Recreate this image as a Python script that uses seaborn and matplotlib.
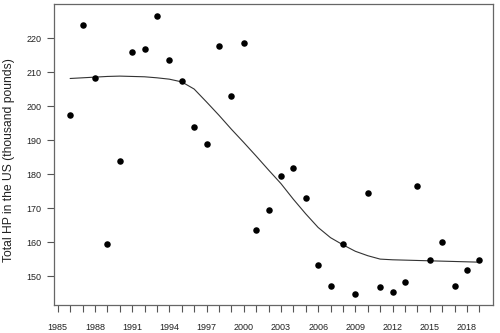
import matplotlib
matplotlib.use("Agg")
import matplotlib.pyplot as plt
import seaborn as sns
import pandas as pd

# observed totals per year (thousand pounds)
years = list(range(1986, 2020))
total_hp = [197.3, 223.7, 208.3, 159.5, 183.7, 216.0, 216.8, 226.6, 213.4, 207.4,
            193.7, 188.9, 217.6, 202.9, 218.5, 163.6, 169.4, 179.4, 181.7, 172.9,
            153.4, 147.0, 159.5, 144.6, 174.3, 146.8, 145.4, 148.2, 176.4, 154.6,
            160.0, 147.0, 151.9, 154.8]

# fitted trend
trend = [208.1, 208.3, 208.5, 208.7, 208.8, 208.7, 208.6, 208.3, 207.9, 207.1,
         205.0, 201.2, 197.3, 193.2, 189.3, 185.3, 181.2, 177.2, 172.6, 168.3,
         164.3, 161.3, 159.2, 157.3, 156.0, 155.0, 154.8, 154.7, 154.6, 154.5,
         154.4, 154.3, 154.2, 154.1]

x_ticks = list(range(1985, 2020))
x_labels = [str(y) if (y - 1985) % 3 == 0 else "" for y in x_ticks]
y_ticks = [150, 160, 170, 180, 190, 200, 210, 220]

df = pd.DataFrame({"year": years, "hp": total_hp, "fit": trend})

sns.set_style("ticks")
plt.rcParams["font.family"] = ["Liberation Sans", "DejaVu Sans"]

fig = plt.figure(figsize=(5, 3.33), dpi=100)
ax = fig.add_axes([0.108, 0.084, 0.878, 0.904])

sns.lineplot(data=df, x="year", y="fit", color="#333333", linewidth=0.8, ax=ax)
sns.scatterplot(data=df, x="year", y="hp", color="black", s=22,
                edgecolor="black", linewidth=0, ax=ax, zorder=3)

ax.set_xlim(1984.7, 2020.1)
ax.set_ylim(141.5, 230)
ax.set_xticks(x_ticks)
ax.set_xticklabels(x_labels)
ax.set_yticks(y_ticks)
ax.tick_params(axis="both", labelsize=6.5, length=5, width=0.8,
               color="#555555", labelcolor="#222222")
ax.tick_params(axis="x", pad=8)
ax.tick_params(axis="y", pad=4)

for sp in ax.spines.values():
    sp.set_visible(True)
    sp.set_color("#666666")
    sp.set_linewidth(0.9)

ax.set_xlabel("")
ax.set_ylabel("Total HP in the US (thousand pounds)", fontsize=8.7, color="#222222")
ax.yaxis.set_label_coords(-0.088, 0.48)

fig.savefig("out.png", dpi=100)
